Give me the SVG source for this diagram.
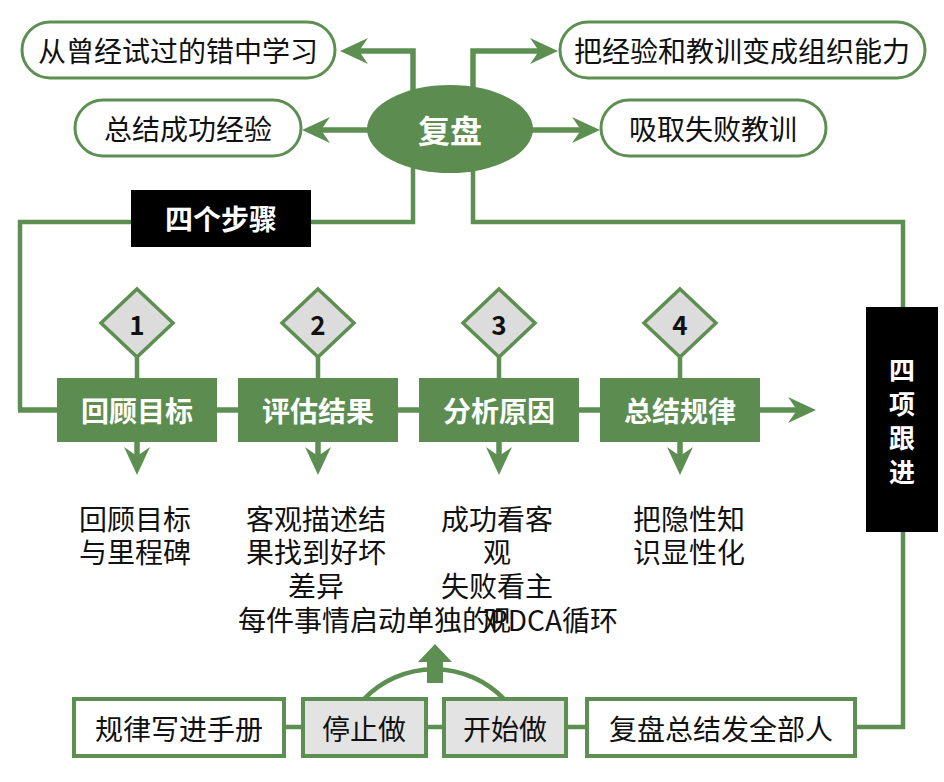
<svg xmlns="http://www.w3.org/2000/svg" width="944" height="782" viewBox="0 0 944 782">
<defs>
<style>
.t{font-family:"Noto Sans CJK SC","Noto Sans",sans-serif;dominant-baseline:central;text-anchor:middle}
.k{fill:#111;font-size:28px}
.w{fill:#fff;font-size:28px;font-weight:bold}
.pill{fill:#fff;stroke:#5e8f52;stroke-width:3}
.gbox{fill:#5c8c50}
.blk{fill:#000}
.dia{fill:#dcdcdc;stroke:#5e8f52;stroke-width:3.5}
.bbox{stroke:#5e8f52;stroke-width:4}
.ln{fill:none;stroke:#5e8f52;stroke-width:4.5}
.ar{fill:none;stroke:#5e8f52;stroke-width:5.5}
</style>
<marker id="ah" markerUnits="userSpaceOnUse" markerWidth="30" markerHeight="28" refX="14" refY="13" orient="auto" viewBox="0 0 30 28">
<path d="M0,0 L28,13 L0,26 L9,13 Z" fill="#5e8f52"/>
</marker>
</defs>
<rect width="944" height="782" fill="#fff"/>
<g id="connectors">
<path class="ar" d="M413,100 V51 H354" marker-end="url(#ah)"/>
<path class="ar" d="M473,100 V51 H544" marker-end="url(#ah)"/>
<path class="ar" d="M380,130 H316" marker-end="url(#ah)"/>
<path class="ar" d="M520,130 H586" marker-end="url(#ah)"/>
<path class="ln" d="M413,160 V222 H20 V410"/>
<path class="ar" d="M18,410 H802" marker-end="url(#ah)"/>
<path class="ln" d="M473,160 V222 H903 V308"/>
<path class="ln" d="M903,530 V727 H855"/>
<path class="ln" d="M137,357 V380 M318,357 V380 M499,357 V380 M680,357 V380"/>
<path class="ar" d="M137,440 V461" marker-end="url(#ah)"/>
<path class="ar" d="M318,440 V461" marker-end="url(#ah)"/>
<path class="ar" d="M499,440 V461" marker-end="url(#ah)"/>
<path class="ar" d="M680,440 V461" marker-end="url(#ah)"/>
<path class="ln" d="M284,727 H303 M426,727 H444 M566,727 H587"/>
<path class="ln" d="M364,699 A97,97 0 0 1 504,699"/>
<polygon points="427,683 443,683 443,662 452,662 435,644 418,662 427,662" fill="#5e8f52"/>
</g>
<g id="pill-learn"><rect class="pill" x="22" y="22" width="313" height="56" rx="28"/><text class="t k" x="178" y="50">从曾经试过的错中学习</text></g>
<g id="pill-org"><rect class="pill" x="560" y="22" width="365" height="56" rx="28"/><text class="t k" x="742" y="50">把经验和教训变成组织能力</text></g>
<g id="pill-success"><rect class="pill" x="75" y="100" width="226" height="56" rx="28"/><text class="t k" x="188" y="128">总结成功经验</text></g>
<g id="pill-fail"><rect class="pill" x="601" y="100" width="225" height="56" rx="28"/><text class="t k" x="713" y="128">吸取失败教训</text></g>
<g id="fupan"><ellipse cx="450" cy="129" rx="83" ry="44" fill="#5c8c50"/><text class="t w" x="450" y="129" style="font-size:32px">复盘</text></g>
<g id="four-steps"><rect class="blk" x="131" y="190" width="180" height="57"/><text class="t w" x="221" y="218">四个步骤</text></g>
<g id="four-follow"><rect class="blk" x="866" y="307" width="72" height="225"/>
<text class="t w" style="font-size:26px"><tspan x="902" y="368">四</tspan><tspan x="902" y="402">项</tspan><tspan x="902" y="436">跟</tspan><tspan x="902" y="470">进</tspan></text></g>
<g id="d1"><polygon class="dia" points="137,289 173,323 137,357 101,323"/><text class="t" x="137" y="323" style="font-size:26px;font-weight:bold;fill:#111">1</text></g>
<g id="d2"><polygon class="dia" points="318,289 354,323 318,357 282,323"/><text class="t" x="318" y="323" style="font-size:26px;font-weight:bold;fill:#111">2</text></g>
<g id="d3"><polygon class="dia" points="499,289 535,323 499,357 463,323"/><text class="t" x="499" y="323" style="font-size:26px;font-weight:bold;fill:#111">3</text></g>
<g id="d4"><polygon class="dia" points="680,289 716,323 680,357 644,323"/><text class="t" x="680" y="323" style="font-size:26px;font-weight:bold;fill:#111">4</text></g>
<g id="s1"><rect class="gbox" x="57" y="378" width="160" height="64"/><text class="t w" x="137" y="410">回顾目标</text></g>
<g id="s2"><rect class="gbox" x="238" y="378" width="160" height="64"/><text class="t w" x="318" y="410">评估结果</text></g>
<g id="s3"><rect class="gbox" x="419" y="378" width="160" height="64"/><text class="t w" x="499" y="410">分析原因</text></g>
<g id="s4"><rect class="gbox" x="600" y="378" width="160" height="64"/><text class="t w" x="680" y="410">总结规律</text></g>
<g id="desc1"><text class="t k"><tspan x="135" y="518">回顾目标</tspan><tspan x="135" y="551">与里程碑</tspan></text></g>
<g id="desc2"><text class="t k"><tspan x="316" y="518">客观描述结</tspan><tspan x="316" y="551">果找到好坏</tspan><tspan x="316" y="585">差异</tspan></text></g>
<g id="desc3"><text class="t k"><tspan x="497" y="518">成功看客</tspan><tspan x="497" y="551">观</tspan><tspan x="497" y="585">失败看主</tspan><tspan x="497" y="619">观</tspan></text></g>
<g id="desc4"><text class="t k"><tspan x="689" y="518">把隐性知</tspan><tspan x="689" y="551">识显性化</tspan></text></g>
<g id="pdca"><text class="t k" x="428" y="619">每件事情启动单独的PDCA循环</text></g>
<g id="b1"><rect class="bbox" x="74" y="699" width="210" height="57" fill="#fff"/><text class="t k" x="179" y="728">规律写进手册</text></g>
<g id="b2"><rect class="bbox" x="303" y="699" width="123" height="57" fill="#e3e3e3"/><text class="t k" x="364" y="728">停止做</text></g>
<g id="b3"><rect class="bbox" x="444" y="699" width="122" height="57" fill="#e3e3e3"/><text class="t k" x="505" y="728">开始做</text></g>
<g id="b4"><rect class="bbox" x="587" y="699" width="268" height="57" fill="#fff"/><text class="t k" x="721" y="728">复盘总结发全部人</text></g>
</svg>
